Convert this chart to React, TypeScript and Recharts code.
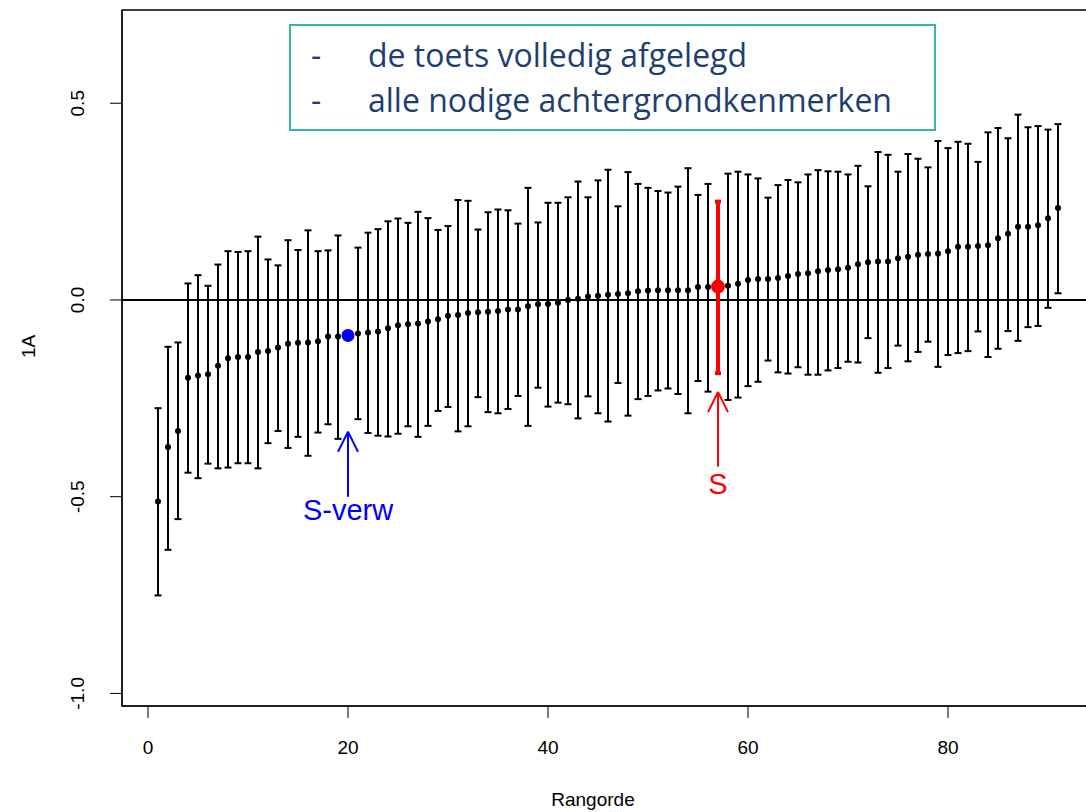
import React from 'react';
import {
  ComposedChart,
  Scatter,
  ErrorBar,
  XAxis,
  YAxis,
  ReferenceLine,
  ReferenceArea,
  ReferenceDot,
} from 'recharts';

const ranks = [
  1, 2, 3, 4, 5, 6, 7, 8, 9, 10, 11, 12, 13, 14, 15, 16, 17, 18, 19, 20,
  21, 22, 23, 24, 25, 26, 27, 28, 29, 30, 31, 32, 33, 34, 35, 36, 37, 38, 39, 40,
  41, 42, 43, 44, 45, 46, 47, 48, 49, 50, 51, 52, 53, 54, 55, 56, 57, 58, 59, 60,
  61, 62, 63, 64, 65, 66, 67, 68, 69, 70, 71, 72, 73, 74, 75, 76, 77, 78, 79, 80,
  81, 82, 83, 84, 85, 86, 87, 88, 89, 90, 91,
];

const estimates = [
  -0.512, -0.374, -0.333, -0.198, -0.192, -0.189, -0.167, -0.148, -0.145, -0.145,
  -0.132, -0.13, -0.121, -0.111, -0.109, -0.108, -0.105, -0.093, -0.093, -0.09,
  -0.085, -0.083, -0.08, -0.072, -0.064, -0.062, -0.06, -0.055, -0.049, -0.04,
  -0.038, -0.033, -0.031, -0.03, -0.028, -0.024, -0.024, -0.016, -0.011, -0.01,
  -0.007, 0.0, 0.003, 0.009, 0.011, 0.013, 0.015, 0.017, 0.022, 0.024,
  0.025, 0.025, 0.025, 0.025, 0.033, 0.033, 0.034, 0.036, 0.041, 0.051,
  0.053, 0.053, 0.056, 0.061, 0.066, 0.068, 0.073, 0.076, 0.078, 0.082,
  0.091, 0.096, 0.098, 0.098, 0.106, 0.11, 0.115, 0.117, 0.118, 0.124,
  0.135, 0.135, 0.137, 0.139, 0.157, 0.168, 0.186, 0.186, 0.19, 0.208,
  0.234,
];

const lowerBounds = [
  -0.751, -0.635, -0.557, -0.439, -0.453, -0.416, -0.428, -0.426, -0.415, -0.415,
  -0.428, -0.364, -0.333, -0.376, -0.348, -0.396, -0.337, -0.316, -0.353, -0.09,
  -0.303, -0.338, -0.345, -0.347, -0.34, -0.321, -0.348, -0.32, -0.282, -0.272,
  -0.334, -0.321, -0.247, -0.285, -0.288, -0.277, -0.244, -0.32, -0.223, -0.271,
  -0.261, -0.265, -0.301, -0.245, -0.288, -0.309, -0.211, -0.294, -0.252, -0.244,
  -0.23, -0.225, -0.239, -0.288, -0.206, -0.233, -0.186, -0.254, -0.248, -0.219,
  -0.208, -0.154, -0.184, -0.187, -0.171, -0.19, -0.19, -0.179, -0.173, -0.157,
  -0.159, -0.097, -0.185, -0.173, -0.116, -0.156, -0.132, -0.106, -0.17, -0.14,
  -0.135, -0.13, -0.08, -0.145, -0.124, -0.079, -0.104, -0.069, -0.066, -0.02,
  0.017,
];

const upperBounds = [
  -0.275, -0.119, -0.108, 0.042, 0.063, 0.036, 0.09, 0.124, 0.122, 0.124,
  0.161, 0.103, 0.088, 0.152, 0.127, 0.177, 0.124, 0.126, 0.164, -0.09,
  0.133, 0.171, 0.18, 0.2, 0.207, 0.196, 0.224, 0.208, 0.178, 0.188,
  0.254, 0.252, 0.179, 0.223, 0.23, 0.228, 0.194, 0.285, 0.197, 0.247,
  0.247, 0.261, 0.301, 0.261, 0.304, 0.331, 0.238, 0.325, 0.295, 0.285,
  0.277, 0.273, 0.288, 0.335, 0.267, 0.295, 0.25, 0.321, 0.326, 0.319,
  0.309, 0.26, 0.292, 0.305, 0.299, 0.319, 0.33, 0.327, 0.326, 0.319,
  0.341, 0.289, 0.376, 0.369, 0.326, 0.371, 0.359, 0.337, 0.404, 0.386,
  0.402, 0.397, 0.351, 0.426, 0.437, 0.411, 0.471, 0.439, 0.442, 0.433,
  0.447,
];

const expectedRank = 20; // S-verw (blue)
const schoolRank = 57; // S (red)

const xTicks = [0, 20, 40, 60, 80];
const yTicks = [-1.0, -0.5, 0.0, 0.5];
const legendLines = ['de toets volledig afgelegd', 'alle nodige achtergrondkenmerken'];

const X_DOMAIN: [number, number] = [-2.6, 94.6];
const Y_DOMAIN: [number, number] = [-1.032, 0.737];

const allRows = ranks.map((r, i) => ({
  x: r,
  y: estimates[i],
  err: [estimates[i] - lowerBounds[i], upperBounds[i] - estimates[i]],
}));
const blackRows = allRows.filter((d) => d.x !== expectedRank && d.x !== schoolRank);
const blueRows = allRows.filter((d) => d.x === expectedRank).map((d) => ({ x: d.x, y: d.y }));
const redRows = allRows.filter((d) => d.x === schoolRank);

const FONT = '"Liberation Sans", Arial, sans-serif';

const YTick = (props: any) => {
  const { x, y, payload } = props;
  return (
    <text
      x={x}
      y={y}
      transform={`rotate(-90 ${x} ${y})`}
      textAnchor="middle"
      fontSize={19}
      fontFamily={FONT}
      fill="#000"
    >
      {Number(payload.value).toFixed(1)}
    </text>
  );
};

const Dot = (props: any) => <circle cx={props.cx} cy={props.cy} r={3} fill="#000" />;
const BlueDot = (props: any) => <circle cx={props.cx} cy={props.cy} r={6.5} fill="#0000FF" />;
const RedDot = (props: any) => <circle cx={props.cx} cy={props.cy} r={7} fill="#FF0000" />;

export default function App() {
  return (
    <div style={{ position: 'relative', width: 1086, height: 812, overflow: 'hidden' }}>
      <style>{`body{margin:0;}`}</style>
      <ComposedChart
        width={1100}
        height={812}
        margin={{ top: 10, right: 6, bottom: 46, left: 62 }}
      >
        <XAxis
          type="number"
          dataKey="x"
          domain={X_DOMAIN}
          ticks={xTicks}
          allowDataOverflow
          interval={0}
          stroke="#000"
          tickSize={12}
          tickMargin={23}
          height={60}
          tick={{ fontSize: 19, fontFamily: FONT, fill: '#000' }}
          label={{
            value: 'Rangorde',
            position: 'insideBottom',
            offset: -40,
            dx: -15,
            fontSize: 19,
            fontFamily: FONT,
            fill: '#000',
          }}
        />
        <YAxis
          type="number"
          dataKey="y"
          domain={Y_DOMAIN}
          ticks={yTicks}
          allowDataOverflow
          interval={0}
          stroke="#000"
          tickSize={12}
          tickMargin={26}
          width={60}
          tick={<YTick />}
          label={{
            value: '1A',
            angle: -90,
            position: 'insideLeft',
            offset: -34,
            fontSize: 19,
            fontFamily: FONT,
            fill: '#000',
          }}
        />
        <ReferenceArea
          x1={X_DOMAIN[0]}
          x2={X_DOMAIN[1]}
          y1={Y_DOMAIN[0]}
          y2={Y_DOMAIN[1]}
          fill="none"
          stroke="#000"
          strokeWidth={1.5}
          ifOverflow="visible"
        />
        <ReferenceLine y={0} stroke="#000" strokeWidth={2} />
        <Scatter data={blackRows} dataKey="y" shape={<Dot />} isAnimationActive={false}>
          <ErrorBar dataKey="err" direction="y" width={3.5} stroke="#000" strokeWidth={2} isAnimationActive={false} />
        </Scatter>
        <Scatter data={redRows} dataKey="y" shape={<RedDot />} isAnimationActive={false}>
          <ErrorBar dataKey="err" direction="y" width={3} stroke="#FF0000" strokeWidth={4} isAnimationActive={false} />
        </Scatter>
        <Scatter data={blueRows} dataKey="y" shape={<BlueDot />} isAnimationActive={false} />

        {/* S-verw arrow */}
        <ReferenceLine segment={[{ x: 20, y: -0.5 }, { x: 20, y: -0.335 }]} stroke="#0000FF" strokeWidth={2} ifOverflow="visible" />
        <ReferenceLine segment={[{ x: 19, y: -0.386 }, { x: 20, y: -0.335 }]} stroke="#0000FF" strokeWidth={2} ifOverflow="visible" />
        <ReferenceLine segment={[{ x: 21, y: -0.386 }, { x: 20, y: -0.335 }]} stroke="#0000FF" strokeWidth={2} ifOverflow="visible" />
        <ReferenceDot
          x={20}
          y={-0.534}
          r={0}
          stroke="none"
          fill="none"
          ifOverflow="visible"
          label={{ value: 'S-verw', position: 'center', fontSize: 29, fontFamily: FONT, fill: '#0000FF' }}
        />

        {/* S arrow */}
        <ReferenceLine segment={[{ x: 57, y: -0.424 }, { x: 57, y: -0.234 }]} stroke="#FF0000" strokeWidth={2} ifOverflow="visible" />
        <ReferenceLine segment={[{ x: 56, y: -0.285 }, { x: 57, y: -0.234 }]} stroke="#FF0000" strokeWidth={2} ifOverflow="visible" />
        <ReferenceLine segment={[{ x: 58, y: -0.285 }, { x: 57, y: -0.234 }]} stroke="#FF0000" strokeWidth={2} ifOverflow="visible" />
        <ReferenceDot
          x={57}
          y={-0.466}
          r={0}
          stroke="none"
          fill="none"
          ifOverflow="visible"
          label={{ value: 'S', position: 'center', fontSize: 29, fontFamily: FONT, fill: '#FF0000' }}
        />
      </ComposedChart>

      <div
        style={{
          position: 'absolute',
          left: 289,
          top: 24,
          width: 647,
          height: 107,
          boxSizing: 'border-box',
          border: '2px solid #3DB3A7',
          background: '#fff',
          fontFamily: '"Open Sans", "Noto Sans", sans-serif',
          fontSize: 32,
          color: '#1F3E70',
        }}
      >
        {legendLines.map((t, i) => (
          <div key={i} style={{ position: 'absolute', left: 20, top: 7 + i * 45, whiteSpace: 'nowrap', lineHeight: '44px' }}>
            <span style={{ display: 'inline-block', width: 57 }}>-</span>
            <span>{t}</span>
          </div>
        ))}
      </div>
    </div>
  );
}
